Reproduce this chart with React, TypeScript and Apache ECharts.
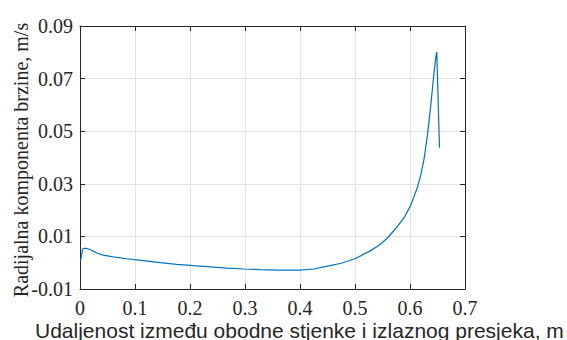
import React, { useEffect, useRef } from "react";
import * as echarts from "echarts";

const xValues = [0.001, 0.005, 0.009, 0.013, 0.018, 0.024, 0.032, 0.042, 0.06, 0.085, 0.115, 0.146, 0.176, 0.206, 0.237, 0.267, 0.298, 0.328, 0.36, 0.4, 0.425, 0.448, 0.475, 0.5, 0.527, 0.545, 0.558, 0.575, 0.589, 0.601, 0.607, 0.6135, 0.6195, 0.6256, 0.6317, 0.6378, 0.6438, 0.6465, 0.6487, 0.6536];
const yValues = [0.0008, 0.0053, 0.0055, 0.0054, 0.005, 0.0044, 0.0036, 0.0029, 0.0022, 0.0015, 0.0008, 0.0, -0.0006, -0.0011, -0.0016, -0.0021, -0.0024, -0.0026, -0.0028, -0.0028, -0.0024, -0.0014, -0.0002, 0.0015, 0.0044, 0.0068, 0.0092, 0.0132, 0.017, 0.0217, 0.025, 0.0287, 0.0332, 0.0395, 0.0485, 0.0599, 0.0725, 0.0775, 0.0802, 0.0437];

const xTitle = "Udaljenost između obodne stjenke i izlaznog presjeka, m";
const yTitle = "Radijalna komponenta brzine, m/s";

const serif = "Liberation Serif, Times New Roman, serif";
const sans = "Liberation Sans, Arial, sans-serif";
const axisColor = "#262626";
const gridColor = "#e3e3e3";

export default function App() {
  const ref = useRef<HTMLDivElement>(null);
  useEffect(() => {
    if (!ref.current) return;
    const chart = echarts.init(ref.current, null, { renderer: "svg" });
    const data = xValues.map((x, i) => [x, yValues[i]]);
    const axisCommon = {
      type: "value" as const,
      axisLine: { show: true, onZero: false, lineStyle: { color: axisColor, width: 1 } },
      axisTick: { show: true, inside: true, length: 5, lineStyle: { color: axisColor } },
    };
    chart.setOption({
      animation: false,
      backgroundColor: "#ffffff",
      grid: { left: 80, right: 102, top: 26, bottom: 51, containLabel: false },
      xAxis: [
        {
          ...axisCommon,
          min: 0,
          max: 0.7,
          interval: 0.1,
          position: "bottom",
          axisLabel: {
            show: true,
            margin: 9,
            color: axisColor,
            fontFamily: serif,
            fontSize: 20,
            formatter: (v: number) => (v === 0 ? "0" : v.toFixed(1)),
          },
          splitLine: { show: true, lineStyle: { color: gridColor, width: 1 } },
        },
        {
          ...axisCommon,
          min: 0,
          max: 0.7,
          interval: 0.1,
          position: "top",
          axisLabel: { show: false },
          splitLine: { show: false },
        },
      ],
      yAxis: [
        {
          ...axisCommon,
          min: -0.01,
          max: 0.09,
          interval: 0.02,
          position: "left",
          axisLabel: {
            show: true,
            margin: 7,
            color: axisColor,
            fontFamily: serif,
            fontSize: 20,
            formatter: (v: number) => v.toFixed(2),
          },
          splitLine: { show: true, lineStyle: { color: gridColor, width: 1 } },
        },
        {
          ...axisCommon,
          min: -0.01,
          max: 0.09,
          interval: 0.02,
          position: "right",
          axisLabel: { show: false },
          splitLine: { show: false },
        },
      ],
      series: [
        {
          type: "line",
          data,
          xAxisIndex: 0,
          yAxisIndex: 0,
          showSymbol: false,
          symbol: "none",
          smooth: false,
          lineStyle: { color: "#0072BD", width: 1.2 },
        },
      ],
      graphic: [
        {
          type: "text",
          x: 21,
          y: 160,
          rotation: Math.PI / 2,
          style: {
            text: yTitle,
            fontFamily: serif,
            fontSize: 20,
            fill: axisColor,
            align: "center",
            verticalAlign: "middle",
          },
        },
        {
          type: "text",
          x: 35,
          y: 330,
          style: {
            text: xTitle,
            fontFamily: sans,
            fontSize: 21,
            fill: axisColor,
            align: "left",
            verticalAlign: "middle",
          },
        },
      ],
    });
    return () => chart.dispose();
  }, []);
  return (
    <div
      ref={ref}
      style={{ position: "fixed", left: 0, top: 0, width: 567, height: 340 }}
    />
  );
}
